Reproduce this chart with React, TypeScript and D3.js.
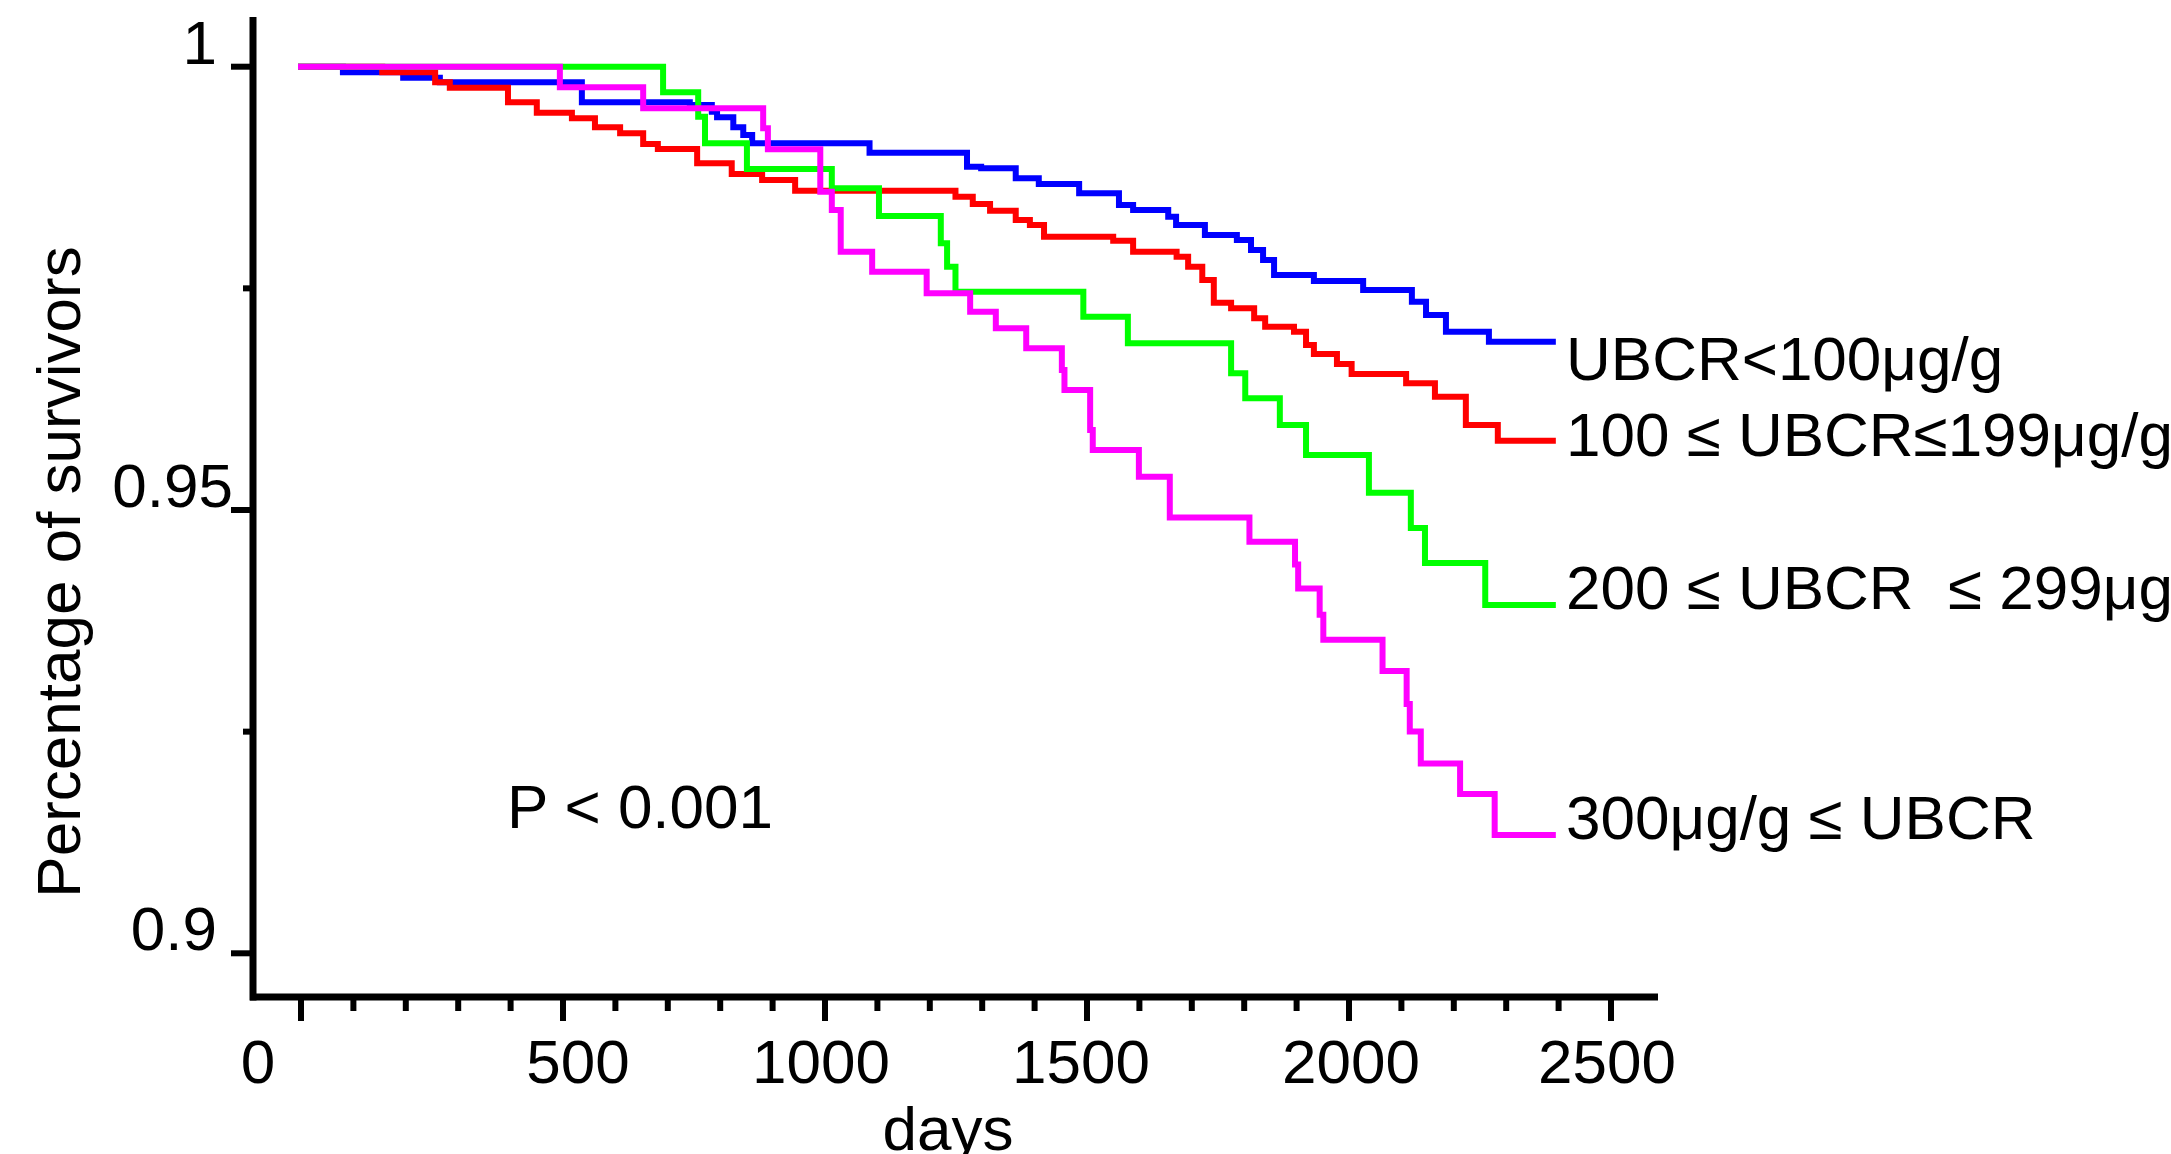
import React from "react";
import * as d3 from "d3";

// Kaplan-Meier step points: [days, survival]
const lowSteps: [number, number][] = [
  [0, 1], [80, 0.99937], [195, 0.99876], [265, 0.99824], [536, 0.99598],
  [742, 0.99568], [784, 0.99492], [794, 0.99429], [825, 0.99316], [844, 0.9923],
  [861, 0.99136], [1085, 0.9903], [1271, 0.98872], [1298, 0.98854], [1364, 0.98741],
  [1408, 0.98677], [1485, 0.98572], [1561, 0.9844], [1588, 0.98384], [1655, 0.98308],
  [1670, 0.98215], [1725, 0.98102], [1786, 0.98045], [1813, 0.97933], [1836, 0.9782],
  [1857, 0.97651], [1933, 0.97583], [2027, 0.97481], [2120, 0.97349], [2147, 0.97199],
  [2185, 0.97011], [2267, 0.96898], [2389, 0.96898],
];

const midSteps: [number, number][] = [
  [0, 1], [155, 0.99937], [256, 0.99824], [284, 0.99763], [395, 0.99598],
  [450, 0.99481], [517, 0.99418], [561, 0.99316], [609, 0.99249], [653, 0.99128],
  [681, 0.99072], [756, 0.9891], [822, 0.9879], [880, 0.98722], [943, 0.98601],
  [1249, 0.98534], [1282, 0.98451], [1315, 0.98376], [1364, 0.98271], [1391, 0.98215],
  [1418, 0.98083], [1550, 0.98037], [1588, 0.97913], [1671, 0.97857], [1693, 0.97744],
  [1720, 0.97594], [1742, 0.97338], [1775, 0.97275], [1819, 0.97162], [1840, 0.97067],
  [1895, 0.97011], [1918, 0.96861], [1933, 0.96759], [1977, 0.96647], [2005, 0.96534],
  [2109, 0.96429], [2164, 0.96278], [2223, 0.95959], [2284, 0.95782], [2389, 0.95782],
];

const highSteps: [number, number][] = [
  [0, 1], [691, 0.99711], [758, 0.99436], [771, 0.99136], [851, 0.98846],
  [1013, 0.98628], [1103, 0.98316], [1221, 0.98008], [1233, 0.97744], [1249, 0.97462],
  [1493, 0.9718], [1578, 0.9688], [1775, 0.96542], [1802, 0.9626], [1868, 0.95959],
  [1918, 0.9562], [2038, 0.95195], [2118, 0.94797], [2145, 0.94402], [2260, 0.93928],
  [2389, 0.93928],
];

const topSteps: [number, number][] = [
  [0, 1], [494, 0.99768], [653, 0.99531], [882, 0.99305], [891, 0.99068],
  [991, 0.9859], [1013, 0.98384], [1030, 0.97913], [1090, 0.97688], [1194, 0.97444],
  [1277, 0.97237], [1326, 0.97049], [1384, 0.96824], [1452, 0.96579], [1457, 0.96353],
  [1506, 0.95902], [1511, 0.95677], [1599, 0.95376], [1658, 0.94915], [1810, 0.94642],
  [1897, 0.94384], [1903, 0.94116], [1944, 0.93819], [1951, 0.93537], [2064, 0.93184],
  [2110, 0.92812], [2116, 0.92503], [2137, 0.92141], [2212, 0.91797], [2278, 0.91335],
  [2389, 0.91335],
];

const seriesLabels = [
  "UBCR<100μg/g",
  "100 ≤ UBCR≤199μg/g",
  "200 ≤ UBCR  ≤ 299μg/g",
  "300μg/g ≤ UBCR",
];
const seriesColors = ["#0000ff", "#ff0000", "#00ff00", "#ff00ff"];
const labelDy = [38, 15, 4, 4];

const xTickLabels = ["0", "500", "1000", "1500", "2000", "2500"];
const xLabelDx = [-43, 15, -4, -6, 2, -4];
const yTickLabels = ["0.9", "0.95", "1"];
const yLabelDx = [-16, 0, -16];

const W = 2171;
const H = 1154;
const font = "'Liberation Sans', Arial, sans-serif";

export default function App() {
  const x = d3.scaleLinear().domain([0, 2500]).range([301, 1611]);
  const y = d3.scaleLinear().domain([0.9, 1]).range([953.3, 66.7]);

  const axisX = 253;
  const axisY = 997;
  const line = d3
    .line<[number, number]>()
    .x((d) => x(d[0]))
    .y((d) => y(d[1]))
    .curve(d3.curveStepAfter);

  const series = [lowSteps, midSteps, highSteps, topSteps];
  const xMajor = xTickLabels.map(Number);
  const xMinor = d3.range(0, 2501, 100).filter((v) => v % 500 !== 0);
  const yMajor = yTickLabels.map(Number);
  const yMinor = [0.925, 0.975];

  return (
    <svg
      width={W}
      height={H}
      style={{ position: "absolute", left: 0, top: 0, background: "#fff" }}
      fontFamily={font}
    >
      <rect width={W} height={H} fill="#fff" />

      {/* curves */}
      {series.map((s, i) => (
        <path
          key={i}
          d={line(s) || ""}
          fill="none"
          stroke={seriesColors[i]}
          strokeWidth={6}
          strokeLinejoin="miter"
          strokeLinecap="square"
        />
      ))}

      {/* axes */}
      <line x1={axisX} x2={axisX} y1={17} y2={axisY + 3.5} stroke="#000" strokeWidth={7} />
      <line x1={250} x2={1658} y1={axisY} y2={axisY} stroke="#000" strokeWidth={7} />

      {yMajor.map((v, i) => (
        <g key={"ym" + v}>
          <line x1={231} x2={axisX} y1={y(v)} y2={y(v)} stroke="#000" strokeWidth={6} />
          <text
            x={233 + yLabelDx[i]}
            y={y(v) - 3}
            textAnchor="end"
            fontSize={62}
          >
            {yTickLabels[i]}
          </text>
        </g>
      ))}
      {yMinor.map((v) => (
        <line key={"yn" + v} x1={243} x2={axisX} y1={y(v)} y2={y(v)} stroke="#000" strokeWidth={6} />
      ))}

      {xMajor.map((v, i) => (
        <g key={"xm" + v}>
          <line x1={x(v)} x2={x(v)} y1={axisY} y2={1021} stroke="#000" strokeWidth={6} />
          <text x={x(v) + xLabelDx[i]} y={1083} textAnchor="middle" fontSize={62}>
            {xTickLabels[i]}
          </text>
        </g>
      ))}
      {xMinor.map((v) => (
        <line key={"xn" + v} x1={x(v)} x2={x(v)} y1={axisY} y2={1011} stroke="#000" strokeWidth={6} />
      ))}

      {/* titles */}
      <text x={948} y={1150} textAnchor="middle" fontSize={62}>
        days
      </text>
      <text
        transform="translate(80,572) rotate(-90)"
        textAnchor="middle"
        fontSize={62}
      >
        Percentage of survivors
      </text>
      <text x={507} y={828} fontSize={62}>
        P &lt; 0.001
      </text>

      {/* end labels */}
      {series.map((s, i) => (
        <text
          key={"lab" + i}
          x={1566}
          y={y(s[s.length - 1][1]) + labelDy[i]}
          fontSize={62}
          style={{ whiteSpace: "pre" }}
        >
          {seriesLabels[i]}
        </text>
      ))}
    </svg>
  );
}
